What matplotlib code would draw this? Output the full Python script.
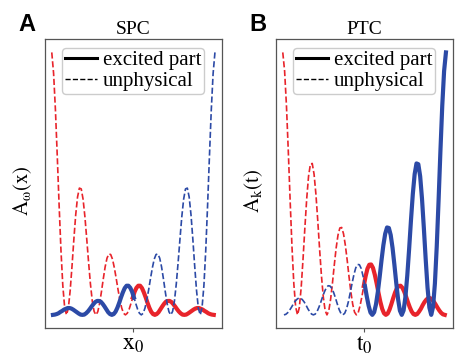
import numpy as np
import matplotlib.pyplot as plt
from matplotlib.lines import Line2D

plt.rcParams['font.family'] = ['Liberation Serif', 'DejaVu Serif']
plt.rcParams['mathtext.fontset'] = 'stix'

# alturas normalizadas, cada 1/16 de periodo desde x = -2.77
# (x0 = 0); la curva azul es el espejo de la roja

# panel A (SPC)
spc_rojo = [1.000, .919, .779, .602, .416, .245, .111, .028, .000, .025,
            .093, .186, .288, .381, .449, .483, .480, .441, .374, .289,
            .200, .118, .053, .013, .000, .012, .044, .089, .138, .183,
            .216, .232, .230, .212, .179, .139, .096, .057, .026, .006,
            .000, .006, .021, .043, .066, .088, .103, .111, .111, .102,
            .086, .067, .046, .027, .012, .003, .000, .003, .010, .021,
            .032, .042, .050, .053, .053, .049, .041, .032, .022, .013,
            .006, .001, .000, .001, .005, .010, .015, .020, .024, .026,
            .026, .023, .020, .015, .011, .006, .003, .001, .000]

# panel B (PTC)
ptc_rojo = [1.000, .929, .797, .624, .436, .260, .119, .030, .000, .028,
            .104, .212, .331, .442, .528, .574, .577, .536, .460, .360,
            .251, .150, .069, .017, .000, .016, .060, .122, .191, .255,
            .304, .331, .333, .309, .265, .208, .145, .087, .040, .010,
            .000, .009, .035, .070, .110, .147, .176, .191, .192, .179,
            .153, .120, .084, .050, .023, .006, .000, .005, .020, .041,
            .064, .085, .101, .110, .111, .103, .088, .069, .048, .029,
            .013, .003, .000, .003, .012, .023, .037, .049, .058, .064,
            .064, .059, .051, .040, .028, .017, .008, .002, .000]

# (letra, titulo, datos, ylabel, tick, azul excitado a la izquierda?)
paneles = [('A', 'SPC', spc_rojo, r'$\mathrm{A_{\omega}(x)}$', r'$\mathrm{x_0}$', True),
           ('B', 'PTC', ptc_rojo, r'$\mathrm{A_k(t)}$', r'$\mathrm{t_0}$', False)]

rojo = '#e8242b'
azul = '#2c4aa6'

fig = plt.figure(figsize=(4.62, 3.55), dpi=100)
lefts = [0.0974, 0.5974]

for (letra, titulo, y, ylab, xlab, azul_izq), left in zip(paneles, lefts):
    ax = fig.add_axes([left, 0.0761, 0.3825, 0.8132])
    y = np.array(y)
    x = np.arange(len(y)) * 0.0625 - 2.77
    corte = np.argmin(np.abs(x))  # x ~ x0

    # rojo: no fisico a la izquierda, excitado a la derecha
    ax.plot(x[:corte + 1], y[:corte + 1], '--', color=rojo, lw=1.2)
    ax.plot(x[corte:], y[corte:], '-', color=rojo, lw=3)
    # azul: espejo de la roja
    if azul_izq:
        ax.plot(-x[corte:], y[corte:], '-', color=azul, lw=3)
        ax.plot(-x[:corte + 1], y[:corte + 1], '--', color=azul, lw=1.2)
    else:
        ax.plot(-x[corte:], y[corte:], '--', color=azul, lw=1.2)
        ax.plot(-x[:corte + 1], y[:corte + 1], '-', color=azul, lw=3)

    ax.set_xlim(-3, 3)
    ax.set_ylim(-0.05, 1.05)
    ax.set_yticks([])
    ax.set_xticks([0])
    ax.set_xticklabels([xlab], fontsize=17)
    ax.tick_params(axis='x', length=3, width=0.8, color='#555555', pad=1)
    ax.set_ylabel(ylab, fontsize=15)
    ax.yaxis.set_label_coords(-0.06, 0.475)
    ax.set_title(titulo, fontsize=14, pad=4)
    for s in ax.spines.values():
        s.set_color('#555555')
        s.set_linewidth(0.9)

    handles = [Line2D([], [], color='black', lw=2.2, ls='-'),
               Line2D([], [], color='black', lw=1.0, ls='--')]
    ax.legend(handles, ['excited part', 'unphysical'], loc='upper center',
              fontsize=15, handlelength=1.5, handletextpad=0.3,
              borderpad=0.15, labelspacing=0.05, borderaxespad=0.4,
              framealpha=1, edgecolor='#cccccc')

    fig.text(left - 0.058, 0.912, letra, fontsize=17, fontweight='bold',
             family='Liberation Sans', ha='left', va='baseline')

fig.savefig('out.png', dpi=100)
